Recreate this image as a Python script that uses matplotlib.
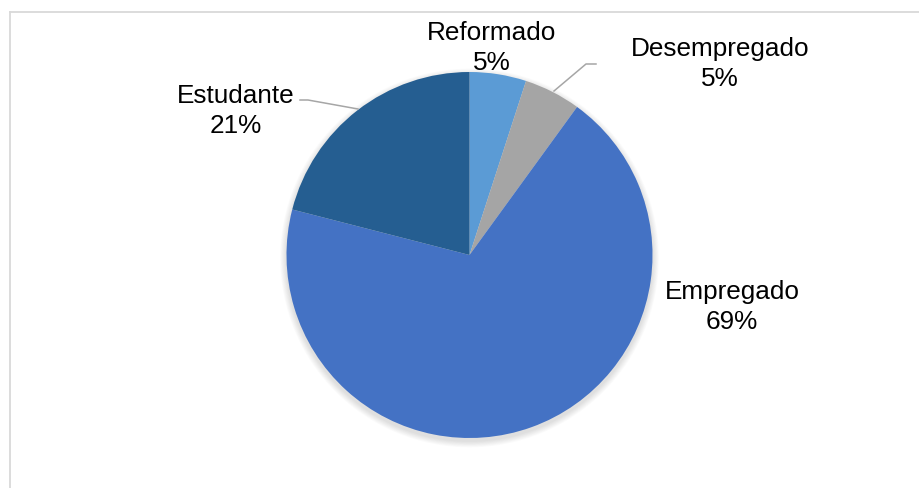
import matplotlib
matplotlib.use("Agg")
import matplotlib.pyplot as plt
from matplotlib.patches import Circle
from matplotlib.lines import Line2D

# Situação profissional dos inquiridos
categories = ["Reformado", "Desempregado", "Empregado", "Estudante"]
shares = [5, 5, 69, 21]
colors = ["#5B9BD5", "#A5A5A5", "#4472C4", "#255E91"]

W, H = 919, 489
fig = plt.figure(figsize=(W / 100, H / 100), dpi=100)
ax = fig.add_axes([0, 0, 1, 1])
ax.set_xlim(0, W)
ax.set_ylim(0, H)
ax.set_aspect("equal")
ax.axis("off")

cx, cy, r = 469.5, H - 256, 183

# soft drop shadow beneath the pie
for k in range(8, 0, -1):
    ax.add_patch(Circle((cx, cy - 3), r + k * 0.8, facecolor="black",
                        edgecolor="none", alpha=0.015, zorder=1))

wedges, _ = ax.pie(shares, colors=colors, startangle=90, counterclock=False,
                   center=(cx, cy), radius=r, frame=True,
                   wedgeprops=dict(linewidth=0, zorder=2))
ax.set_xlim(0, W)
ax.set_ylim(0, H)
ax.axis("off")

label_pos = {
    "Reformado": (492, 48),
    "Desempregado": (720, 64),
    "Empregado": (732, 307),
    "Estudante": (236, 111),
}
for name, val in zip(categories, shares):
    x, y = label_pos[name]
    ax.text(x, H - y, f"{name}\n{val}%", ha="center", va="center",
            fontsize=18.8, family=["Liberation Sans", "DejaVu Sans"],
            color="black", linespacing=1.27, zorder=5)

# leader lines
lc = "#A6A6A6"
ax.plot([596, 586, 554], [H - 65, H - 65, H - 92], color=lc, lw=1.1, zorder=4)
ax.plot([300, 308, 358], [H - 101, H - 101, H - 110], color=lc, lw=1.1, zorder=4)

# chart area border (top and left edges visible)
fig.add_artist(Line2D([10 / W, 1], [1 - 13 / H, 1 - 13 / H],
                      transform=fig.transFigure, color="#D9D9D9", lw=1.3))
fig.add_artist(Line2D([10 / W, 10 / W], [0, 1 - 13 / H],
                      transform=fig.transFigure, color="#D9D9D9", lw=1.3))

fig.savefig("out.png", dpi=100, facecolor="white")
